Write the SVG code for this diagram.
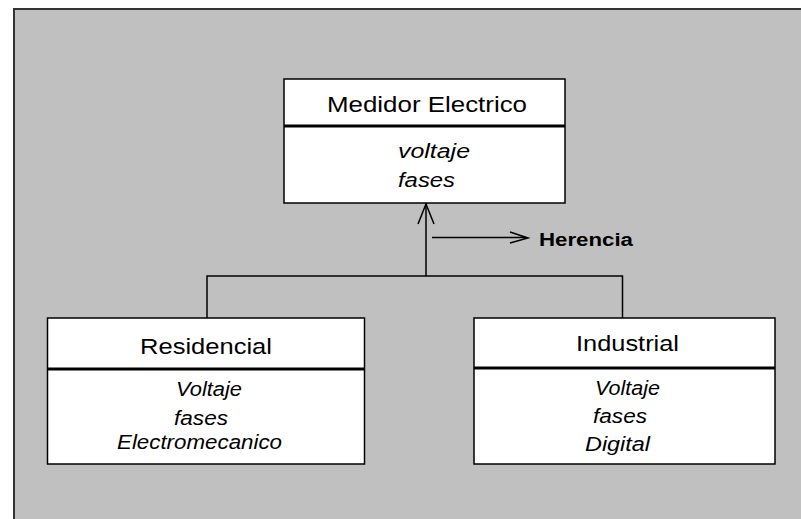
<svg xmlns="http://www.w3.org/2000/svg" width="801" height="519" viewBox="0 0 801 519">
<style>
.box{fill:#fff;stroke:#000;stroke-width:1.5}
.div{stroke:#000;stroke-width:3}
.ln{fill:none;stroke:#000;stroke-width:1.5}
.t{font-family:"Liberation Sans",Arial,sans-serif;font-size:22px;fill:#000}
.a{font-family:"Liberation Sans",Arial,sans-serif;font-size:20px;font-style:italic;fill:#000}
.h{font-family:"Liberation Sans",Arial,sans-serif;font-size:18px;font-weight:bold;fill:#000}
</style>
<rect x="0" y="0" width="801" height="519" fill="#fff"/>
<rect x="14" y="9" width="800" height="520" fill="#c0c0c0" stroke="#333" stroke-width="2"/>
<g id="connectors">
<path class="ln" d="M426,203 V276 M207,318 V276 H622.5 V318"/>
<path class="ln" d="M418,224 L426,204 L434,224"/>
<path class="ln" d="M432,237.5 H527 M510,232 L528,238 L510,243"/>
</g>
<g id="medidor">
<rect class="box" x="284" y="79" width="281" height="124"/>
<line class="div" x1="284" y1="126" x2="565" y2="126"/>
<text class="t" x="427" y="112" text-anchor="middle" textLength="200" lengthAdjust="spacingAndGlyphs">Medidor Electrico</text>
<text class="a" x="398" y="158" textLength="72" lengthAdjust="spacingAndGlyphs">voltaje</text>
<text class="a" x="398" y="187" textLength="57" lengthAdjust="spacingAndGlyphs">fases</text>
</g>
<g id="herencia">
<text class="h" x="539" y="246" textLength="94" lengthAdjust="spacingAndGlyphs">Herencia</text>
</g>
<g id="residencial">
<rect class="box" x="47.5" y="318" width="317" height="146"/>
<line class="div" x1="47.5" y1="369" x2="364.5" y2="369"/>
<text class="t" x="206" y="354" text-anchor="middle" textLength="132" lengthAdjust="spacingAndGlyphs">Residencial</text>
<text class="a" x="176" y="396" textLength="66" lengthAdjust="spacingAndGlyphs">Voltaje</text>
<text class="a" x="174" y="425" textLength="54" lengthAdjust="spacingAndGlyphs">fases</text>
<text class="a" x="117" y="449" textLength="165" lengthAdjust="spacingAndGlyphs">Electromecanico</text>
</g>
<g id="industrial">
<rect class="box" x="474" y="318" width="301" height="146"/>
<line class="div" x1="474" y1="368" x2="775" y2="368"/>
<text class="t" x="576" y="351" textLength="103" lengthAdjust="spacingAndGlyphs">Industrial</text>
<text class="a" x="595" y="395" textLength="65" lengthAdjust="spacingAndGlyphs">Voltaje</text>
<text class="a" x="593" y="423" textLength="54" lengthAdjust="spacingAndGlyphs">fases</text>
<text class="a" x="585" y="451" textLength="65" lengthAdjust="spacingAndGlyphs">Digital</text>
</g>
</svg>
